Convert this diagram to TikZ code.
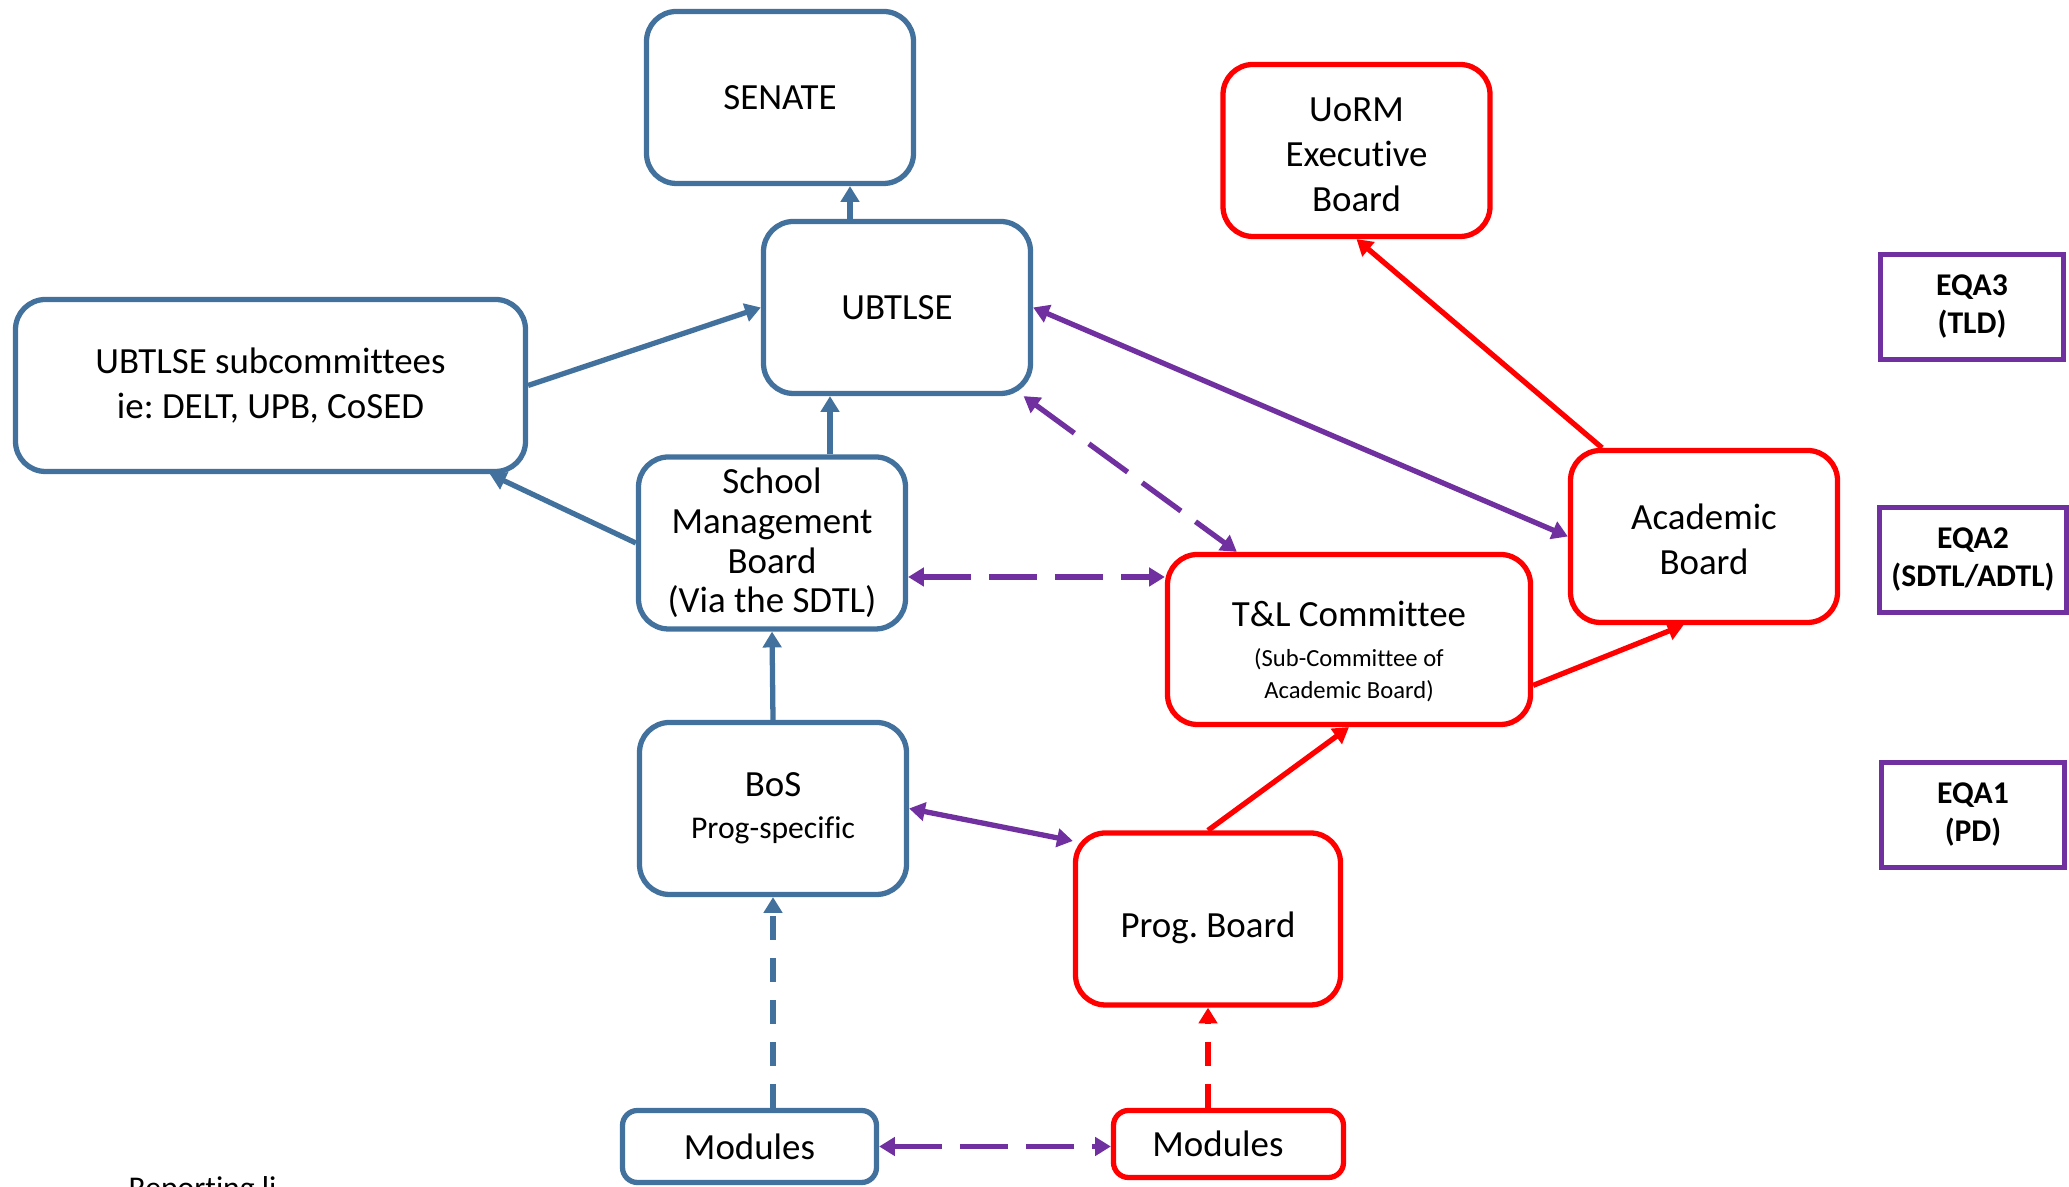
\documentclass[tikz,border=0pt]{standalone}
\usepackage{fontspec}
\setmainfont{Carlito}[Ligatures=CommonOff]
\usetikzlibrary{arrows.meta}
\definecolor{boardBlue}{HTML}{41719C}
\definecolor{boardRed}{HTML}{FF0000}
\definecolor{eqaPurple}{HTML}{7030A0}
\frenchspacing

\begin{document}
\begin{tikzpicture}[
  >={Triangle[length=4.5pt,width=5.2pt]},
  board/.style={draw, line width=1.5pt, rounded corners=3mm, align=center, inner sep=1pt, font=\fontsize{10.5}{12.8}\selectfont},
  blueBoard/.style={board, draw=boardBlue, minimum width=\boxW cm, minimum height=\boxH cm},
  redBoard/.style={board, draw=boardRed, minimum width=\boxW cm, minimum height=\boxH cm},
  eqa/.style={draw=eqaPurple, line width=1.5pt, minimum width=1.83cm, minimum height=1.05cm, align=center, font=\bfseries\fontsize{9}{10.8}\selectfont},
  blueLink/.style={draw=boardBlue, line width=1.5pt, ->},
  redLink/.style={draw=boardRed, line width=1.5pt, ->},
  purpleLink/.style={draw=eqaPurple, line width=1.5pt, <->},
  shortDash/.style={dash pattern=on 2.4mm off 1.8mm},
  longDash/.style={dash pattern=on 4.8mm off 1.8mm},
]
% Parameters
\def\boxW{2.67}
\def\boxH{1.72}

\useasboundingbox (0,0) rectangle (20.69,11.87);

% School side (blue)
\node[blueBoard] (senate) at (7.80,10.895) {SENATE};
\node[blueBoard] (ubtlse) at (8.97,8.795) {UBTLSE};
\node[blueBoard, minimum width=5.10cm] (subcom) at (2.705,8.015) {UBTLSE subcommittees\\ie: DELT, UPB, CoSED};
\node[blueBoard, font=\fontsize{10.5}{11.3}\selectfont] (smb) at (7.72,6.44) {School\\Management\\Board\\(Via the SDTL)};
\node[blueBoard, font=\fontsize{10.5}{12}\selectfont] (bos) at (7.73,3.785) {BoS\\{\fontsize{9}{11}\selectfont Prog-specific}};
\node[blueBoard, minimum width=2.54cm, minimum height=0.72cm, rounded corners=1.5mm] (modL) at (7.495,0.405) {Modules};

% University side (red)
\node[redBoard] (uorm) at (13.565,10.365) {\rule{0pt}{9pt}UoRM\\Executive\\Board};
\node[redBoard] (acad) at (17.04,6.505) {\rule{0pt}{9pt}Academic\\Board};
\node[redBoard, minimum width=3.63cm, minimum height=1.70cm, font=\fontsize{10.5}{9}\selectfont] (tl) at (13.49,5.475) {\rule{0pt}{14pt}T\&L Committee\\[2.3pt]{\fontsize{7}{9}\selectfont (Sub-Committee of}\\{\fontsize{7}{9}\selectfont Academic Board)}};
\node[redBoard, minimum width=2.65cm] (progB) at (12.08,2.68) {\rule{0pt}{12.5pt}Prog. Board};
\node[redBoard, minimum width=2.30cm, minimum height=0.67cm, rounded corners=1.5mm] (modR) at (12.285,0.43) {Modules\hspace{6pt}};

% EQA levels
\node[eqa] (eqa3) at (19.72,8.80) {EQA3\\(TLD)};
\node[eqa] (eqa2) at (19.73,6.27) {EQA2\\(SDTL/ADTL)};
\node[eqa] (eqa1) at (19.73,3.72) {EQA1\\(PD)};

\node[anchor=base west, inner sep=0pt, font=\fontsize{9}{11}\selectfont] (legend) at (1.28,-0.12) {Reporting li};

% Blue arrows
\coordinate (ubtlseTop) at ([xshift=-4.7mm]ubtlse.north);
\draw[blueLink] (ubtlseTop) -- (ubtlseTop |- senate.south);
\draw[blueLink] (subcom.east) -- (ubtlse.west);
\coordinate (smbTop) at ([xshift=5.8mm]smb.north);
\draw[blueLink] (smbTop) -- (smbTop |- ubtlse.south);
\draw[blueLink] (smb.west) -- (subcom.-22);
\draw[blueLink] (bos.north) -- (smb.south);
\draw[blueLink, shortDash] (bos.south |- modL.north) -- (bos.south); % modules

% Red arrows
\draw[redLink] (progB.north) -- (tl.south);
\draw[redLink] (tl.-14) -- (acad.257);
\draw[redLink] (acad.139) -- (uorm.south);
\draw[redLink, shortDash] (progB.south |- modR.north) -- (progB.south); % modules

% Purple links
\draw[purpleLink] (acad.west) -- (ubtlse.east);
\draw[purpleLink, longDash] (ubtlse.-35) -- (tl.142);
\coordinate (smbSide) at ([yshift=-3.4mm]smb.east);
\draw[purpleLink, longDash] (smbSide) -- (smbSide -| tl.west);
\draw[purpleLink] (bos.east) -- (progB.150);
\draw[purpleLink, longDash] (modL.east) -- (modL.east -| modR.west);

\end{tikzpicture}
\end{document}
